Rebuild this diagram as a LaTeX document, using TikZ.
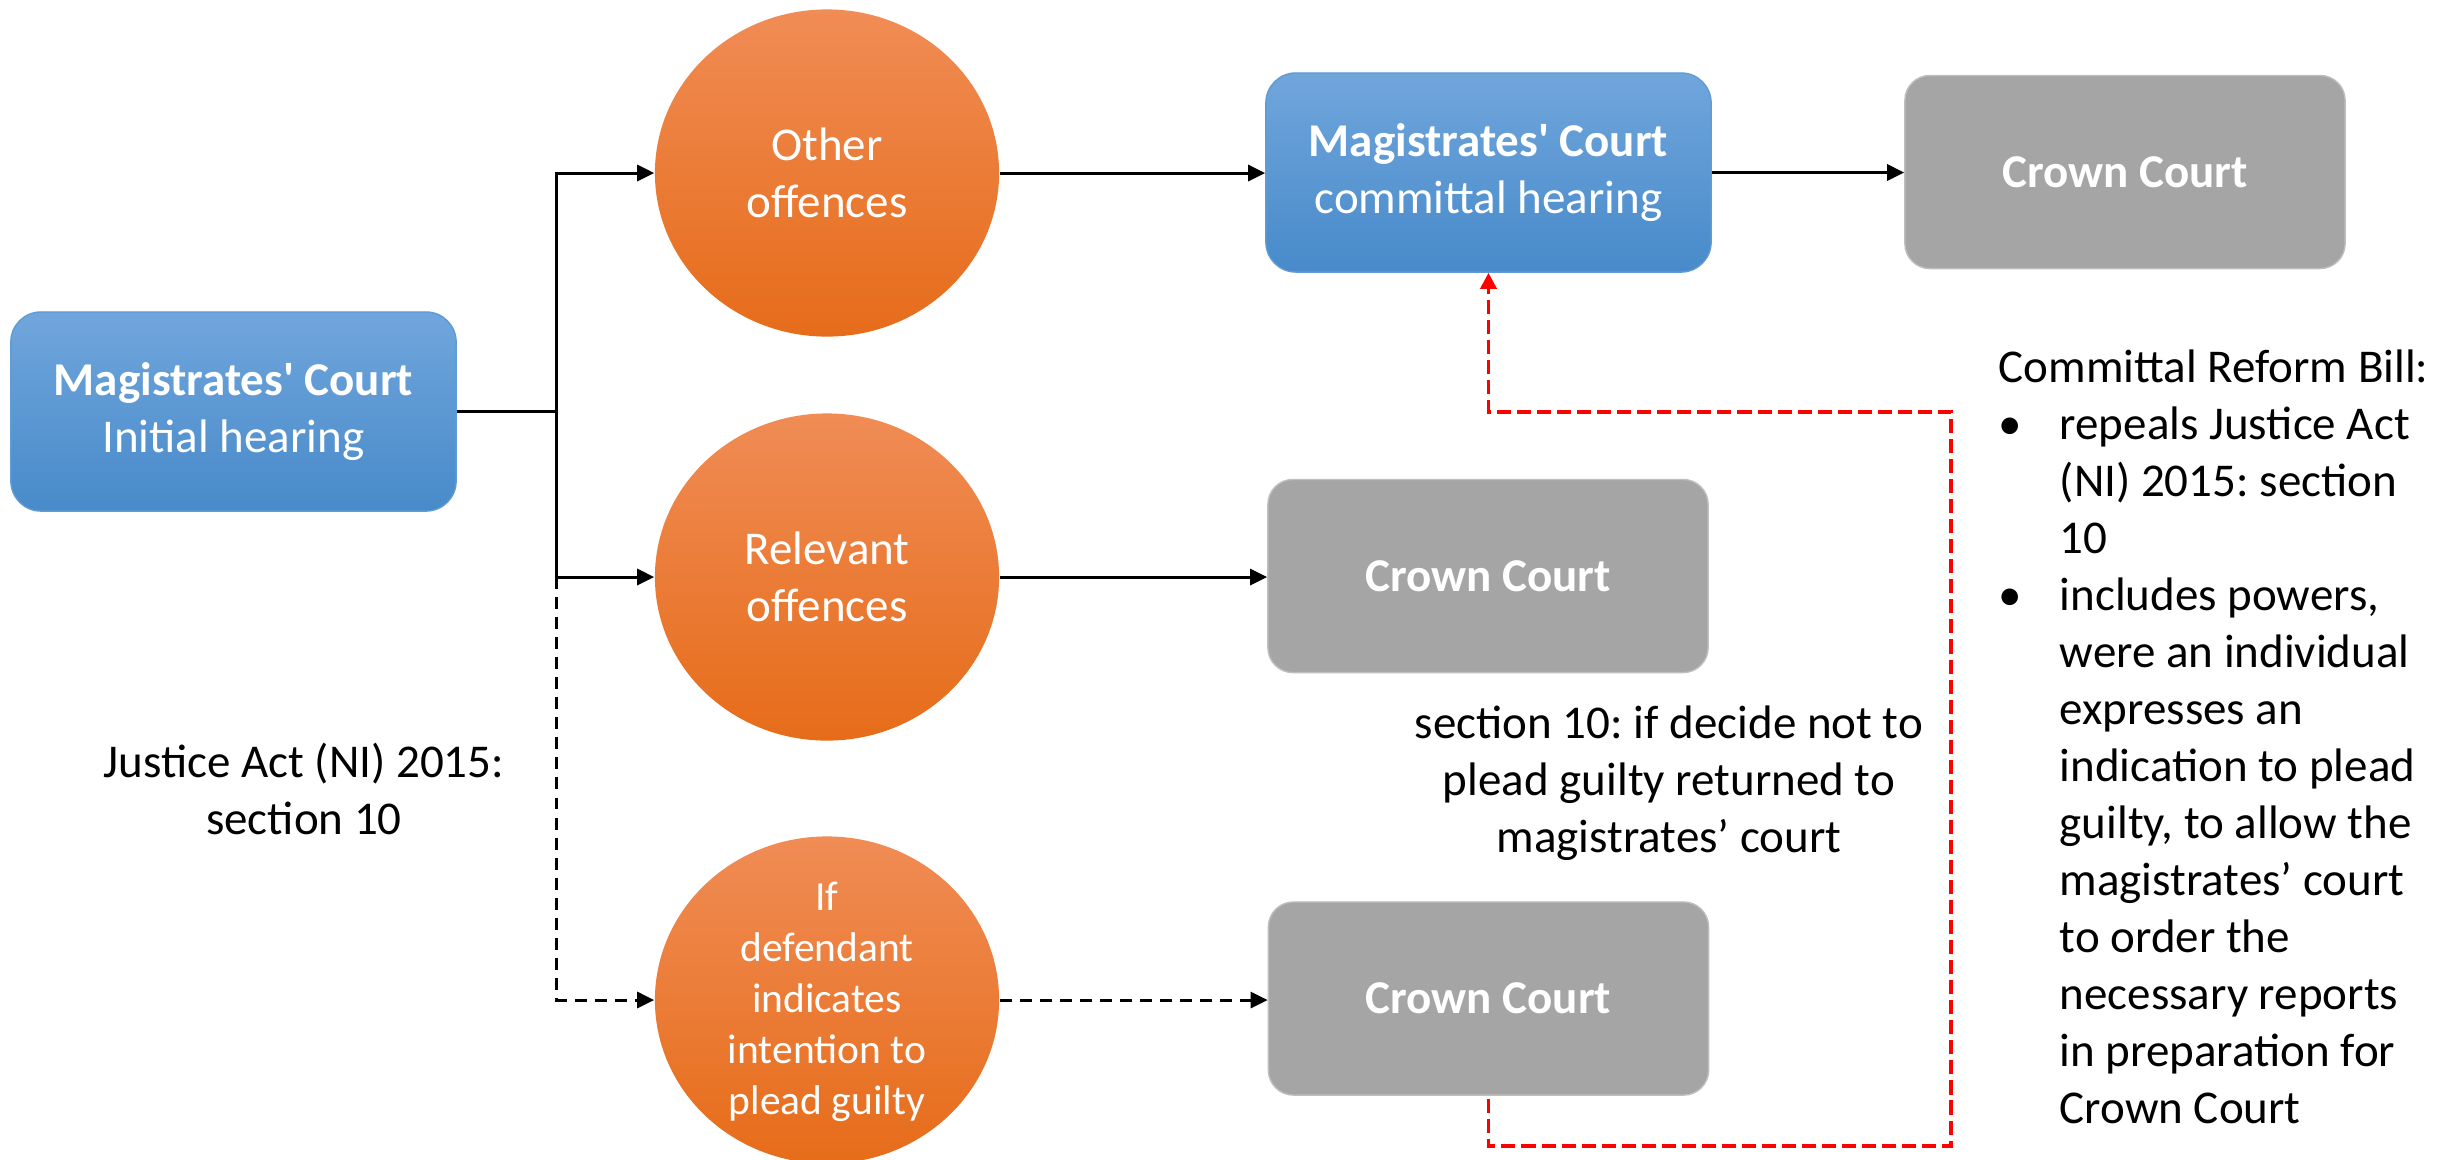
\documentclass[tikz,border=0pt]{standalone}
\usepackage{fontspec}
\setmainfont{Carlito}[Ligatures=TeXOff]
\usetikzlibrary{arrows.meta,shapes.geometric}
\frenchspacing
\definecolor{bluetop}{RGB}{112,166,220}
\definecolor{bluemid}{RGB}{91,155,213}
\definecolor{bluebot}{RGB}{72,138,202}
\definecolor{blueedge}{RGB}{95,155,212}
\definecolor{orangetop}{RGB}{240,140,85}
\definecolor{orangemid}{RGB}{242,125,40}
\definecolor{orangebot}{RGB}{230,108,25}
\definecolor{grayfill}{RGB}{165,165,165}
\definecolor{grayedge}{RGB}{190,190,190}
\definecolor{redline}{RGB}{255,0,0}
\newcommand{\fsmain}{\fontsize{13.37pt}{16.22pt}\selectfont}
\newcommand{\fssmall}{\fontsize{11.8pt}{14.5pt}\selectfont}
\newcommand{\bitem}{\makebox[0.61cm][l]{•}}
\newcommand{\bindent}{\hspace*{0.61cm}}
\begin{document}
\frenchspacing
\begin{tikzpicture}[x=0.01cm,y=-0.01cm,
  bluebox/.style={rectangle, rounded corners=0.3cm, draw=blueedge, line width=0.4pt,
    top color=bluetop, middle color=bluemid, bottom color=bluebot,
    minimum width=4.45cm, minimum height=1.99cm, inner sep=0pt,
    align=center, text=white, font=\fsmain},
  graybox/.style={rectangle, rounded corners=0.25cm, fill=grayfill, draw=grayedge, line width=0.4pt,
    minimum width=4.4cm, minimum height=1.93cm, inner sep=0pt,
    text=white, font=\fsmain\bfseries},
  offence/.style={ellipse, draw=none, top color=orangetop, middle color=orangemid, bottom color=orangebot,
    minimum width=3.44cm, minimum height=3.27cm, inner sep=0pt},
  offtext/.style={align=center, text=white, font=\fsmain, inner sep=0pt},
  note/.style={align=center, text=black, font=\fsmain, inner sep=0pt},
  link/.style={line width=0.85pt, draw=black, -{Triangle[length=0.17cm,width=0.16cm]}},
  blackdash/.style={dash pattern=on 3.4pt off 2.3pt},
  redlink/.style={line width=1pt, draw=redline, dash pattern=on 4pt off 1.7pt,
    -{Triangle[length=0.16cm,width=0.16cm,fill=redline]}}
]
\useasboundingbox (0,0) rectangle (2463,1159);
\fill[white] (0,0) rectangle (2463,1159);

% boxes
\node[bluebox] (A) at (233.5,411.5) {\textbf{Magistrates' Court}\\Initial hearing};
\node[bluebox] (B) at (1488.5,172.5) {\textbf{Magistrates' Court}\\committal hearing};
\node[graybox] (C) at (2125,172) {Crown Court};
\node[graybox] (D) at (1488,576) {Crown Court};
\node[graybox] (E) at (1488.5,998.5) {Crown Court};

% offence circles
\node[offence] (c1) at (827,173) {};
\node[offence] (c2) at (827,577) {};
\node[offence] (c3) at (827,1000) {};
\node[offtext] (t1) at (c1) {Other\\offences};
\node[offtext] (t2) at (c2) {Relevant\\offences};
\node[offtext, font=\fssmall] (t3) at (827,1001.5) {If\\defendant\\indicates\\intention to\\plead guilty};

% connectors
\coordinate (j) at ([xshift=1cm]A.east);
\draw[link] (A.east) -- (j) |- (c1.west);
\draw[link] (j) |- (c2.west);
\draw[link, blackdash] (j |- c2.west) |- (c3.west);
\draw[link] (c1.east) -- (c1.east -| B.west);
\draw[link] (B.east) -- (B.east -| C.west);
\draw[link] (c2.east) -- (c2.east -| D.west);
\draw[link, blackdash] (c3.east) -- (c3.east -| E.west);

\coordinate (r1) at (1951,1146);
\coordinate (r2) at (1951,412);
\draw[redlink] ([yshift=-0.03cm]E.south) |- (r1) -- (r2) -| (B.south);

% notes
\node[note] (ja) at (304,788.5) {Justice Act (NI) 2015:\\section 10};
\node[note] (s10) at (1669,783.5) {section 10: if decide not to\\plead guilty returned to\\magistrates’ court};
\node[note, align=left, anchor=west] (bill) at (1998,737) {Committal Reform Bill:\\
\bitem repeals Justice Act\\
\bindent (NI) 2015: section\\
\bindent 10\\
\bitem includes powers,\\
\bindent were an individual\\
\bindent expresses an\\
\bindent indication to plead\\
\bindent guilty, to allow the\\
\bindent magistrates’ court\\
\bindent to order the\\
\bindent necessary reports\\
\bindent in preparation for\\
\bindent Crown Court};
\end{tikzpicture}
\end{document}
